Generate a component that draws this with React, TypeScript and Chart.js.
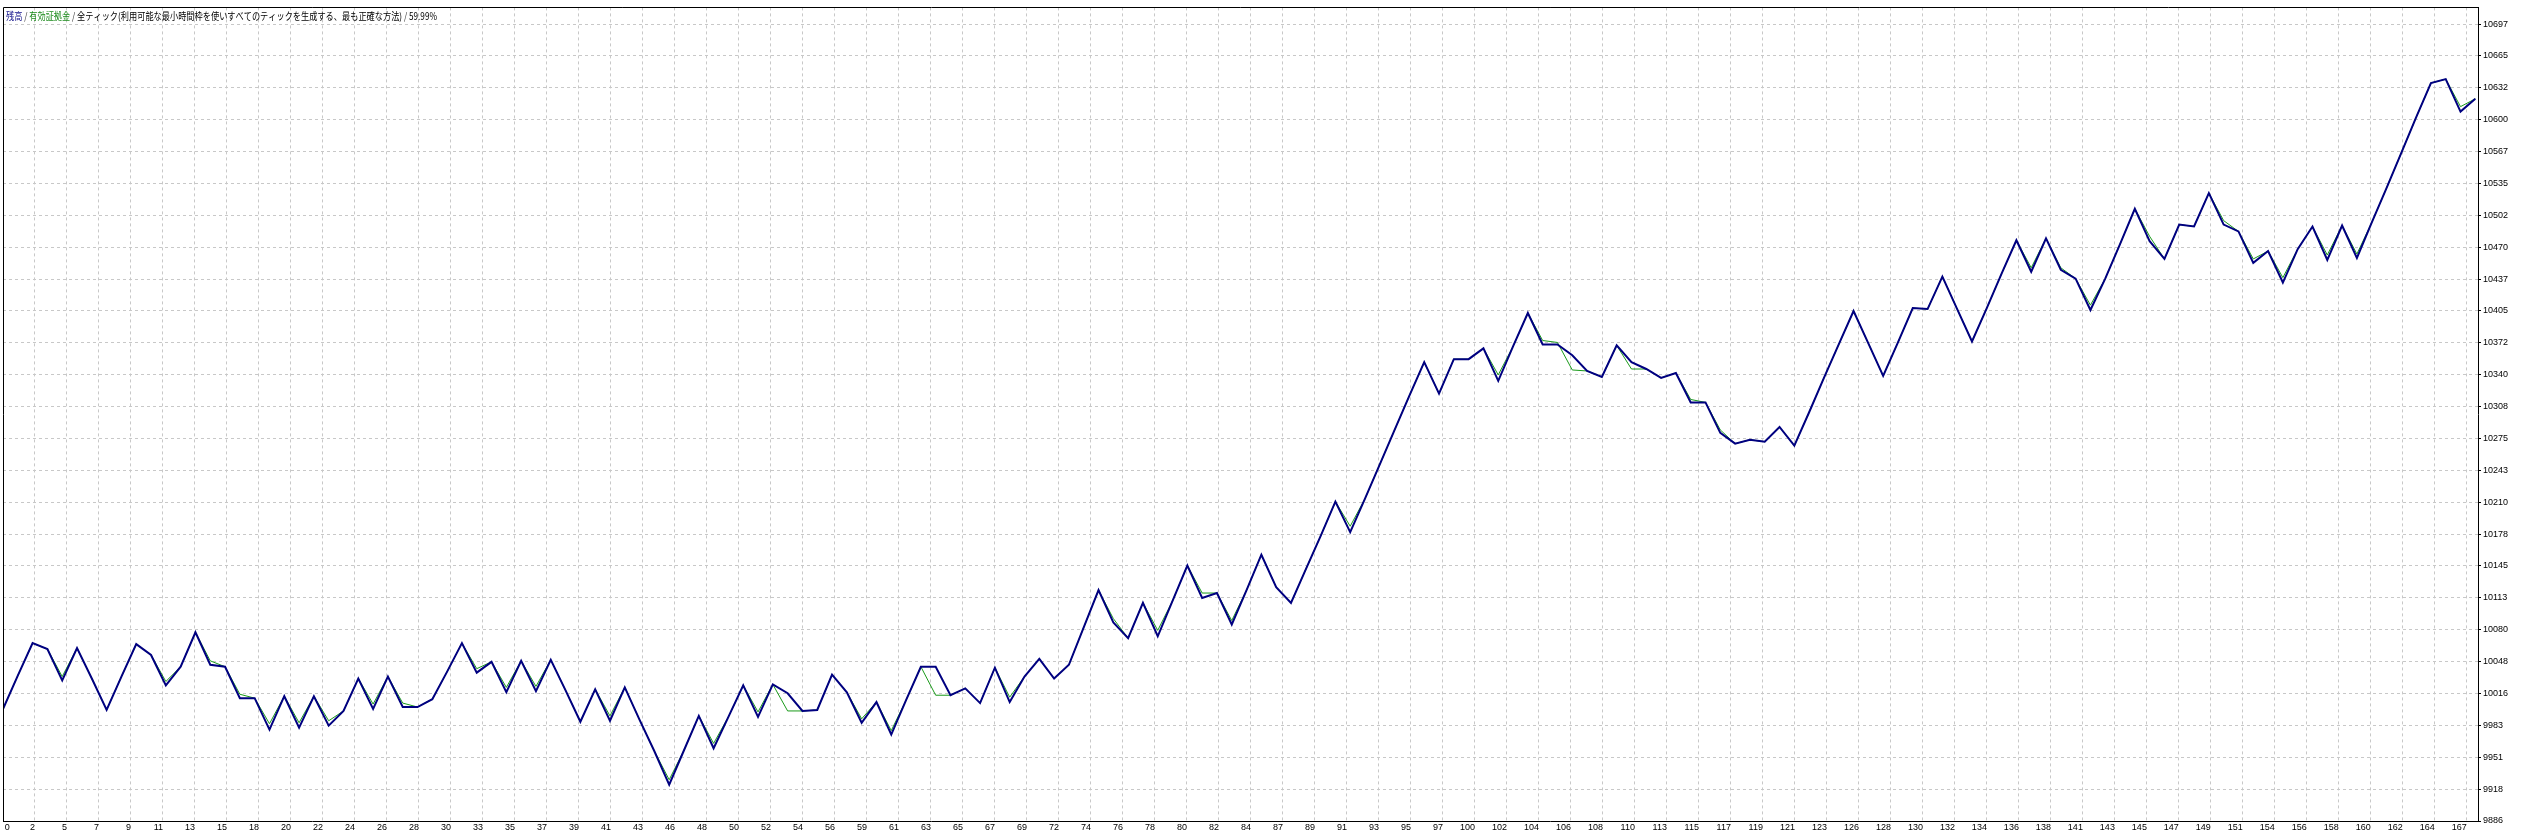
import React, { useEffect, useRef } from 'react';
import { Chart, registerables } from 'chart.js';

Chart.register(...registerables);

// ---- data ----
const BALANCE = [
  10000, 10034, 10067, 10061, 10029, 10062, 10031, 9999, 10033, 10066,
  10055, 10024, 10043, 10078, 10045, 10043, 10011, 10011, 9979, 10013,
  9981, 10013, 9983, 9998, 10031, 10000, 10033, 10002, 10002, 10010,
  10038, 10067, 10037, 10048, 10017, 10049, 10018, 10050, 10019, 9987,
  10020, 9988, 10022, 9989, 9957, 9923, 9958, 9993, 9960, 9992,
  10024, 9992, 10025, 10016, 9998, 9999, 10035, 10017, 9986, 10007,
  9974, 10009, 10043, 10043, 10014, 10021, 10006, 10042, 10007, 10033,
  10051, 10031, 10045, 10083, 10121, 10088, 10072, 10108, 10074, 10110,
  10146, 10113, 10118, 10086, 10121, 10157, 10124, 10108, 10142, 10176,
  10211, 10180, 10214, 10249, 10284, 10319, 10353, 10321, 10356, 10356,
  10367, 10334, 10369, 10403, 10371, 10371, 10360, 10344, 10338, 10370,
  10353, 10346, 10337, 10342, 10312, 10312, 10281, 10270, 10274, 10272,
  10287, 10268, 10302, 10337, 10371, 10405, 10372, 10339, 10373, 10408,
  10407, 10440, 10407, 10374, 10408, 10443, 10477, 10445, 10479, 10447,
  10438, 10406, 10438, 10473, 10509, 10476, 10458, 10493, 10491, 10525,
  10493, 10486, 10454, 10466, 10434, 10468, 10491, 10457, 10492, 10459,
  10495, 10530, 10566, 10602, 10637, 10641, 10608, 10621,
];

const EQUITY = [
  10000, 10034, 10067, 10061, 10033, 10062, 10031, 9999, 10033, 10066,
  10055, 10028, 10043, 10078, 10049, 10043, 10015, 10011, 9985, 10013,
  9986, 10013, 9988, 9998, 10031, 10005, 10033, 10006, 10002, 10010,
  10038, 10067, 10041, 10048, 10022, 10049, 10023, 10050, 10019, 9987,
  10020, 9993, 10022, 9989, 9957, 9928, 9958, 9993, 9965, 9992,
  10024, 9997, 10025, 9998, 9998, 9999, 10035, 10017, 9990, 10007,
  9978, 10009, 10043, 10014, 10014, 10021, 10006, 10042, 10012, 10033,
  10051, 10031, 10045, 10083, 10121, 10092, 10072, 10108, 10080, 10110,
  10146, 10118, 10118, 10090, 10121, 10157, 10124, 10108, 10142, 10176,
  10211, 10186, 10214, 10249, 10284, 10319, 10353, 10321, 10356, 10356,
  10367, 10340, 10369, 10403, 10375, 10373, 10345, 10344, 10338, 10370,
  10346, 10346, 10337, 10342, 10315, 10312, 10284, 10270, 10274, 10272,
  10287, 10268, 10302, 10337, 10371, 10405, 10372, 10339, 10373, 10408,
  10407, 10440, 10407, 10374, 10408, 10443, 10477, 10449, 10479, 10449,
  10438, 10411, 10438, 10473, 10509, 10481, 10458, 10493, 10491, 10525,
  10497, 10486, 10458, 10466, 10439, 10468, 10491, 10462, 10492, 10463,
  10495, 10530, 10566, 10602, 10637, 10641, 10613, 10621,
];

const X_TICK_LABELS = [
  '0', '2', '5', '7', '9', '11', '13', '15', '18', '20', '22', '24', '26', '28', '30',
  '33', '35', '37', '39', '41', '43', '46', '48', '50', '52', '54', '56', '59', '61',
  '63', '65', '67', '69', '72', '74', '76', '78', '80', '82', '84', '87', '89', '91',
  '93', '95', '97', '100', '102', '104', '106', '108', '110', '113', '115', '117',
  '119', '121', '123', '126', '128', '130', '132', '134', '136', '138', '141', '143',
  '145', '147', '149', '151', '154', '156', '158', '160', '162', '164', '167',
];

const Y_TICK_LABELS = [
  '9886', '9918', '9951', '9983', '10016', '10048', '10080', '10113', '10145',
  '10178', '10210', '10243', '10275', '10308', '10340', '10372', '10405', '10437',
  '10470', '10502', '10535', '10567', '10600', '10632', '10665', '10697',
];

const LEGEND_BALANCE = '残高';
const LEGEND_EQUITY = '有効証拠金';
const LEGEND_MODEL = '全ティック(利用可能な最小時間枠を使いすべてのティックを生成する、最も正確な方法)';
const LEGEND_QUALITY = '59.99%';

// ---- layout constants ----
const W = 2523;
const H = 834;
const X_GRID_STEP = 2.1614; // trades per grid column
const X_MAX = 167.18;
const Y_MIN = 9886;
const Y_MAX = 10714;
const FONT = '"Liberation Sans", "DejaVu Sans", sans-serif';

const frameAndLegend = {
  id: 'frameAndLegend',
  afterDraw(chart: any) {
    const { ctx, chartArea } = chart;
    ctx.save();
    ctx.strokeStyle = '#000';
    ctx.lineWidth = 1;
    ctx.beginPath();
    ctx.moveTo(Math.round(chartArea.left) + 0.5, Math.round(chartArea.bottom));
    ctx.lineTo(Math.round(chartArea.left) + 0.5, Math.round(chartArea.top) + 0.5);
    ctx.lineTo(Math.round(chartArea.right), Math.round(chartArea.top) + 0.5);
    ctx.stroke();

    ctx.font = '10px "Noto Sans CJK JP", sans-serif';
    ctx.textBaseline = 'middle';
    const parts: [string, string][] = [
      [LEGEND_BALANCE, '#10108a'],
      [' / ', '#404040'],
      [LEGEND_EQUITY, '#1a8a1a'],
      [' / ', '#404040'],
      [LEGEND_MODEL, '#000'],
      [' / ', '#404040'],
      [LEGEND_QUALITY, '#000'],
    ];
    const total = parts.reduce((s, p) => s + ctx.measureText(p[0]).width, 0);
    const sx = 431 / total;
    ctx.translate(chartArea.left + 3, chartArea.top + 9);
    ctx.scale(sx, 1);
    let x = 0;
    for (const [t, c] of parts) {
      ctx.fillStyle = c;
      ctx.fillText(t, x, 0);
      x += ctx.measureText(t).width;
    }
    ctx.restore();
  },
};

export default function App() {
  const ref = useRef<HTMLCanvasElement | null>(null);

  useEffect(() => {
    document.body.style.margin = '0';
    const canvas = ref.current;
    if (!canvas) return;
    const gridColor = '#c8c8c8';
    const chart = new Chart(canvas, {
      type: 'line',
      data: {
        datasets: [
          {
            label: LEGEND_BALANCE,
            data: BALANCE.map((y, i) => ({ x: i, y })),
            borderColor: '#000080',
            borderWidth: 2,
            pointRadius: 0,
            tension: 0,
            fill: false,
          },
          {
            label: LEGEND_EQUITY,
            data: EQUITY.map((y, i) => ({ x: i, y })),
            borderColor: '#1a9a1a',
            borderWidth: 1,
            pointRadius: 0,
            tension: 0,
            fill: false,
          },
        ],
      },
      options: {
        responsive: false,
        animation: false,
        events: [],
        layout: { padding: { left: 3, top: 4, right: 0, bottom: 0 } },
        plugins: {
          legend: { display: false },
          title: { display: false },
          tooltip: { enabled: false },
        },
        scales: {
          x: {
            type: 'linear',
            min: 0,
            max: X_MAX,
            afterBuildTicks: (scale: any) => {
              scale.ticks = X_TICK_LABELS.map((_, k) => ({ value: k === 0 ? 0.45 : k * X_GRID_STEP }));
            },
            afterFit: (scale: any) => {
              scale.height = 13;
            },
            ticks: {
              autoSkip: false,
              maxRotation: 0,
              minRotation: 0,
              align: 'end',
              padding: 1,
              color: '#000',
              font: { family: FONT, size: 9 },
              callback: (_v: any, i: number) => X_TICK_LABELS[i],
            },
            grid: {
              color: (c: any) => (c.index === 0 ? 'rgba(0,0,0,0)' : gridColor),
              lineWidth: 1,
              drawTicks: false,
              tickLength: 0,
            },
            border: { display: true, color: '#000', width: 1, dash: [3, 3] },
          },
          y: {
            type: 'linear',
            position: 'right',
            min: Y_MIN,
            max: Y_MAX,
            afterBuildTicks: (scale: any) => {
              const first = Number(Y_TICK_LABELS[0]);
              const last = Number(Y_TICK_LABELS[Y_TICK_LABELS.length - 1]);
              const step = (last - first) / (Y_TICK_LABELS.length - 1);
              scale.ticks = Y_TICK_LABELS.map((_, k) => ({ value: first + k * step }));
            },
            afterFit: (scale: any) => {
              scale.width = 45;
            },
            ticks: {
              padding: 2,
              color: '#000',
              font: { family: FONT, size: 9 },
              callback: (_v: any, i: number) => Y_TICK_LABELS[i],
            },
            grid: {
              color: gridColor,
              lineWidth: 1,
              drawTicks: true,
              tickLength: 3,
              tickColor: '#000',
            },
            border: { display: true, color: '#000', width: 1, dash: [3, 3] },
          },
        },
      },
      plugins: [frameAndLegend],
    } as any);
    return () => chart.destroy();
  }, []);

  return (
    <canvas
      ref={ref}
      width={W}
      height={H}
      style={{ display: 'block', position: 'absolute', left: 0, top: 0, width: W, height: H, background: '#fff' }}
    />
  );
}
